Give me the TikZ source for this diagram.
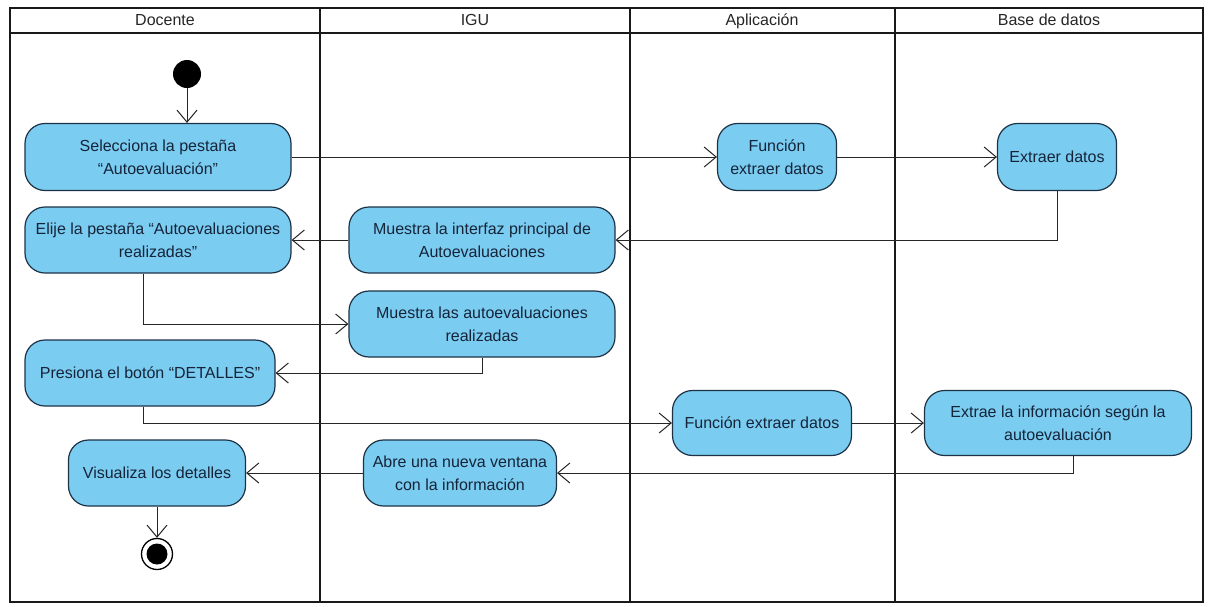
\documentclass[tikz,border=0pt]{standalone}
\usepackage{fontspec}
\setmainfont{Liberation Sans}
\usetikzlibrary{arrows.meta,calc}
\definecolor{actfill}{RGB}{122,204,240}
\definecolor{actdraw}{RGB}{30,50,70}
\definecolor{acttext}{RGB}{22,36,58}
\begin{document}
\begin{tikzpicture}[x=1pt,y=-1pt,
  act/.style={draw=actdraw,fill=actfill,line width=1.2pt,rounded corners=20pt,
    align=center,text=acttext,font=\fontsize{16}{23}\selectfont,inner sep=2pt},
  lanehead/.style={font=\fontsize{16}{19}\selectfont,text=black!85,text height=12pt,text depth=4pt,inner sep=0pt},
  frameline/.style={line width=2.4pt,black!90},
  flow/.style={line width=1pt,black!85,-{Straight Barb[length=12pt,width=20pt,line width=1pt]}}
]
\useasboundingbox (0,0) rectangle (1208,606);
\fill[white] (0,0) rectangle (1208,606);
% swimlanes
\draw[frameline] (10,8) rectangle (1203,602);
\draw[frameline] (10,33) -- (1203,33);
\draw[frameline] (320,8) -- (320,602);
\draw[frameline] (630,8) -- (630,602);
\draw[frameline] (895,8) -- (895,602);
\node[lanehead] (h1) at (165,21) {Docente};
\node[lanehead] (h2) at (475,21) {IGU};
\node[lanehead] (h3) at (762,21) {Aplicación};
\node[lanehead] (h4) at (1049,21) {Base de datos};
% nodes
\node[circle,fill=black,minimum size=28pt,inner sep=0pt] (start) at (187,74) {};
\node[act,minimum width=266pt,minimum height=67pt] (sel) at (158,157) {Selecciona la pestaña\\“Autoevaluación”};
\node[act,minimum width=119pt,minimum height=67pt] (func1) at (777,157) {Función\\extraer datos};
\node[act,minimum width=119pt,minimum height=67pt] (extr) at (1057,157) {Extraer datos};
\node[act,minimum width=266pt,minimum height=66pt] (m1) at (482,240) {Muestra la interfaz principal de\\Autoevaluaciones};
\node[act,minimum width=266pt,minimum height=66pt] (elije) at (158,240) {Elije la pestaña “Autoevaluaciones\\realizadas”};
\node[act,minimum width=266pt,minimum height=66pt] (m2) at (482,324) {Muestra las autoevaluaciones\\realizadas};
\node[act,minimum width=250pt,minimum height=66pt] (pres) at (150,373) {Presiona el botón “DETALLES”};
\node[act,minimum width=179pt,minimum height=65pt] (func2) at (762,423) {Función extraer datos};
\node[act,minimum width=267pt,minimum height=65pt] (extrae) at (1058,423) {Extrae la información según la\\autoevaluación};
\node[act,minimum width=193pt,minimum height=66pt] (abre) at (460,473) {Abre una nueva ventana\\con la información};
\node[act,minimum width=177pt,minimum height=66pt] (vis) at (157,473) {Visualiza los detalles};
\node[circle,draw=black,line width=1.3pt,fill=white,minimum size=31pt,inner sep=0pt] (final) at (157,554) {};
\node[circle,fill=black,minimum size=21pt,inner sep=0pt] (finaldot) at (final.center) {};
% connectors
\draw[flow] (start) -- (start |- sel.north);
\draw[flow] (sel) -- (func1);
\draw[flow] (func1) -- (extr);
\draw[flow] (extr.south) |- (m1.east);
\draw[flow] (m1) -- (elije);
\draw[flow] ($(elije.south)+(-15,0)$) |- (m2.west);
\draw[flow] (m2.south) |- (pres.east);
\draw[flow] ($(pres.south)+(-7,0)$) |- (func2.west);
\draw[flow] (func2) -- (extrae);
\draw[flow] ($(extrae.south)+(15,0)$) |- (abre.east);
\draw[flow] (abre) -- (vis);
\draw[flow] (vis) -- (final);
\end{tikzpicture}
\end{document}
